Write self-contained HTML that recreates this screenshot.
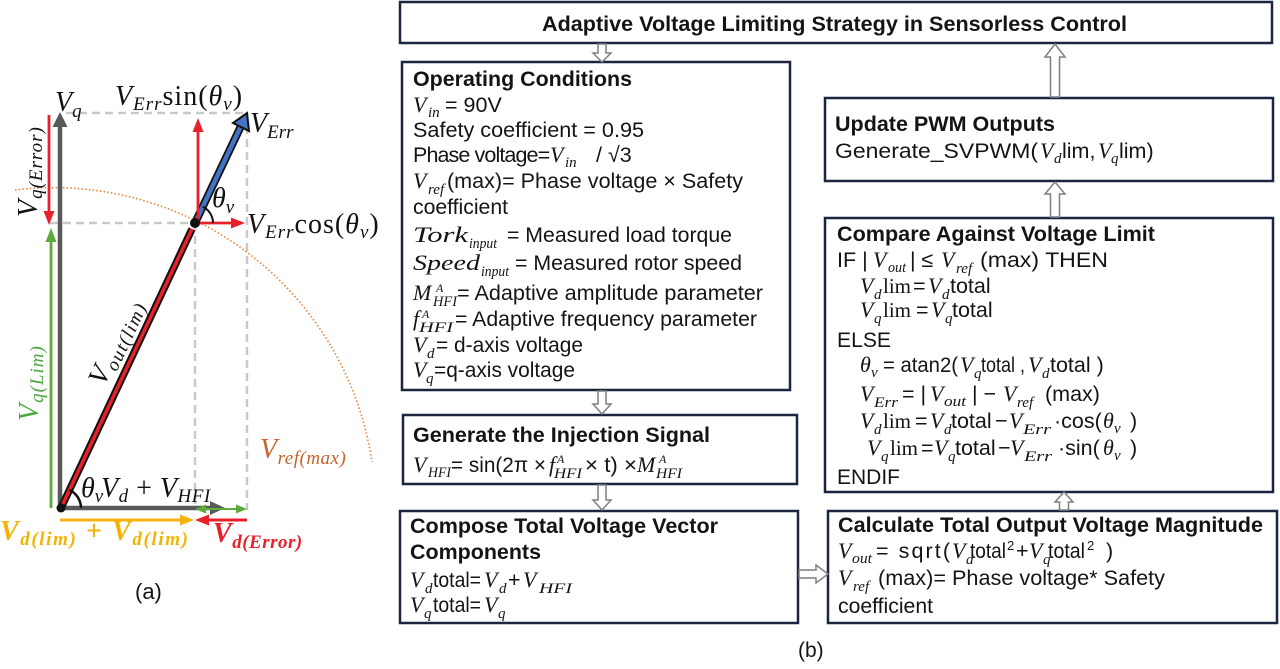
<!DOCTYPE html>
<html><head><meta charset="utf-8"><style>
html,body{margin:0;padding:0;background:#fff;}
svg{display:block;}
.t{font-family:"Liberation Sans",sans-serif;font-size:21.5px;fill:#141414;}
.b{font-family:"Liberation Sans",sans-serif;font-size:21.5px;font-weight:bold;fill:#141414;}
.m{font-family:"Liberation Serif",serif;font-style:italic;font-size:22px;fill:#141414;}
.r{font-family:"Liberation Serif",serif;font-size:21px;fill:#141414;}
.s{font-family:"Liberation Serif",serif;font-style:italic;font-size:15px;fill:#141414;}
.sp{font-family:"Liberation Serif",serif;font-style:italic;font-size:12px;fill:#141414;}
.L{font-family:"Liberation Serif",serif;font-style:italic;font-size:28px;fill:#111;}
.Ls{font-family:"Liberation Serif",serif;font-style:italic;font-size:19px;}
.box{fill:#fff;stroke:#1c2540;stroke-width:2.5;}
.ha{fill:#fff;stroke:#7f7f7f;stroke-width:1.5;}
</style></head><body>
<svg width="1280" height="669" viewBox="0 0 1280 669" xmlns="http://www.w3.org/2000/svg">
<rect width="1280" height="669" fill="#fff"/>

<!-- ============ (a) vector diagram ============ -->
<g fill="none" stroke="#c9c9c9" stroke-width="2.5" stroke-dasharray="8 5">
  <line x1="66" y1="113" x2="247" y2="113"/>
  <line x1="247" y1="113" x2="247" y2="510"/>
  <line x1="195" y1="223" x2="195" y2="510"/>
  <line x1="50" y1="223" x2="195" y2="223"/>
</g>
<path d="M 15 190 A 322 322 0 0 1 372 462" fill="none" stroke="#e8823a" stroke-width="1.6" stroke-dasharray="1.5 2.2"/>

<!-- gray axes -->
<line x1="60" y1="510" x2="60" y2="125" stroke="#595959" stroke-width="4.5"/>
<polygon points="60,112 52.5,127 67.5,127" fill="#595959"/>
<line x1="58" y1="508" x2="212" y2="508" stroke="#595959" stroke-width="4.5"/>
<polygon points="225,508 210,501 210,515" fill="#595959"/>

<!-- red Vq(Error) -->
<line x1="49" y1="115" x2="49" y2="213" stroke="#e8202a" stroke-width="2.8"/>
<polygon points="49,225 43.5,211 54.5,211" fill="#e8202a"/>
<!-- green Vq(Lim) -->
<line x1="51" y1="508" x2="51" y2="240" stroke="#5aab3c" stroke-width="2.8"/>
<polygon points="51,228 45.5,242 56.5,242" fill="#5aab3c"/>

<!-- Vout(lim) -->
<line x1="61" y1="508" x2="192" y2="229" stroke="#111" stroke-width="7.5"/>
<line x1="61" y1="508" x2="192" y2="229" stroke="#e8202a" stroke-width="3.5"/>

<!-- V_Err blue -->
<line x1="195" y1="223" x2="241" y2="126" stroke="#111" stroke-width="8"/>
<line x1="195" y1="223" x2="241" y2="126" stroke="#4472c4" stroke-width="4.5"/>
<polygon points="247,113 249,131 233,123" fill="#4472c4" stroke="#111" stroke-width="2"/>

<!-- red sin / cos -->
<line x1="198" y1="223" x2="198" y2="130" stroke="#e8202a" stroke-width="2.8"/>
<polygon points="198,118 192.5,132 203.5,132" fill="#e8202a"/>
<line x1="195" y1="223" x2="232" y2="223" stroke="#e8202a" stroke-width="2.8"/>
<polygon points="245,223 231,217.5 231,228.5" fill="#e8202a"/>

<circle cx="195" cy="223" r="5" fill="#111"/>
<circle cx="61" cy="508" r="4.5" fill="#111"/>

<!-- theta arcs -->
<path d="M 202.7 206.7 A 18 18 0 0 1 213 223" fill="none" stroke="#111" stroke-width="2"/>
<path d="M 69.5 490 A 20 20 0 0 1 81 508" fill="none" stroke="#111" stroke-width="2.5"/>

<!-- bottom arrows -->
<line x1="60" y1="520" x2="182" y2="520" stroke="#f6b40e" stroke-width="3"/>
<polygon points="194,520 180,514.5 180,525.5" fill="#f6b40e"/>
<line x1="247" y1="520" x2="207" y2="520" stroke="#e8202a" stroke-width="3"/>
<polygon points="195,520 209,514.5 209,525.5" fill="#e8202a"/>
<line x1="205" y1="509" x2="237" y2="509" stroke="#5aab3c" stroke-width="2"/>
<polygon points="195,509 206,504.5 206,513.5" fill="#5aab3c"/>
<polygon points="247,509 236,504.5 236,513.5" fill="#5aab3c"/>

<!-- labels (a) -->
<text class="L" x="55" y="111">V<tspan class="Ls" dy="6">q</tspan></text>
<text class="L" x="115" y="105" letter-spacing="1">V<tspan class="Ls" dy="5">Err</tspan><tspan dy="-5" style="font-style:normal">sin(</tspan>θ<tspan class="Ls" dy="5">v</tspan><tspan dy="-5" style="font-style:normal">)</tspan></text>
<text class="L" x="250" y="132">V<tspan class="Ls" dy="6">Err</tspan></text>
<text class="L" x="247" y="233" letter-spacing="1">V<tspan class="Ls" dy="5">Err</tspan><tspan dy="-5" style="font-style:normal">cos(</tspan>θ<tspan class="Ls" dy="5">v</tspan><tspan dy="-5" style="font-style:normal">)</tspan></text>
<text class="L" x="212" y="207">θ<tspan class="Ls" dy="6">v</tspan></text>
<text class="L" transform="translate(37,217) rotate(-90)" x="0" y="0" letter-spacing="1">V<tspan class="Ls" dy="5">q(Error)</tspan></text>
<text class="L" transform="translate(38,421) rotate(-90)" x="0" y="0" style="fill:#4da640" letter-spacing="1">V<tspan class="Ls" dy="5">q(Lim)</tspan></text>
<text class="L" transform="translate(104,387) rotate(-64.8)" x="0" y="0" letter-spacing="1.5">V<tspan class="Ls" dy="5">out(lim)</tspan></text>
<text class="L" x="81" y="497">θ<tspan class="Ls" dy="5">v</tspan></text>
<text class="L" x="101" y="497" letter-spacing="0.5">V<tspan class="Ls" dy="5">d</tspan><tspan dy="-5" style="font-style:normal"> + </tspan>V<tspan class="Ls" dy="5">HFI</tspan></text>
<text class="L" x="0" y="540" style="fill:#f5b301;font-weight:bold" letter-spacing="1.6">V<tspan class="Ls" dy="5">d(lim)</tspan><tspan dy="-5" style="font-style:normal"> + </tspan>V<tspan class="Ls" dy="5">d(lim)</tspan></text>
<text class="L" x="213" y="542" style="fill:#e8202a;font-weight:bold" letter-spacing="0.5">V<tspan class="Ls" dy="6">d(Error)</tspan></text>
<text class="L" x="260" y="458" style="fill:#c8622a" letter-spacing="0.5">V<tspan class="Ls" dy="6">ref(max)</tspan></text>
<text class="t" x="135" y="599" style="font-size:22px">(a)</text>

<!-- ============ (b) flowchart ============ -->
<rect class="box" x="400" y="2" width="872" height="41"/>
<text class="b" x="542" y="31" textLength="585" lengthAdjust="spacingAndGlyphs">Adaptive Voltage Limiting Strategy in Sensorless Control</text>

<rect class="box" x="402" y="62" width="388" height="328"/>
<rect class="box" x="403" y="415" width="394" height="69"/>
<rect class="box" x="400" y="511" width="398" height="112"/>
<rect class="box" x="825" y="98" width="448" height="83"/>
<rect class="box" x="825" y="218" width="448" height="274"/>
<rect class="box" x="828" y="511" width="449" height="112"/>

<!-- hollow arrows -->
<polygon class="ha" points="598,44 606,44 606,53 611,53 602,62 593,53 598,53"/>
<polygon class="ha" points="598,391 606,391 606,404 611,404 602,414 593,404 598,404"/>
<polygon class="ha" points="598,485 606,485 606,500 611,500 602,510 593,500 598,500"/>
<polygon class="ha" points="1050.5,97 1059.5,97 1059.5,57 1065,57 1055,44 1045,57 1050.5,57"/>
<polygon class="ha" points="1050.5,217 1059.5,217 1059.5,194 1065,194 1055,182 1045,194 1050.5,194"/>
<polygon class="ha" points="1059.5,510 1068.5,510 1068.5,502 1073,502 1064,492 1055,502 1059.5,502"/>
<polygon class="ha" points="799,570 816,570 816,565 828,574 816,583 816,578 799,578"/>

<!-- Operating Conditions -->
<text class="b" x="413" y="86" textLength="219" lengthAdjust="spacingAndGlyphs">Operating Conditions</text>
<text class="m" x="413" y="112">V</text><text class="s" x="428" y="117">in</text>
<text class="t" x="445" y="112">= 90V</text>
<text class="t" x="413" y="137" textLength="231" lengthAdjust="spacingAndGlyphs">Safety coefficient = 0.95</text>
<text class="t" x="413" y="162" letter-spacing="-0.9">Phase voltage=</text>
<text class="m" x="550" y="162">V</text><text class="s" x="565" y="167">in</text>
<text class="t" x="596" y="162">/ √3</text>
<text class="m" x="413" y="188">V</text><text class="s" x="428" y="194">ref</text>
<text class="t" x="447" y="188" textLength="296" lengthAdjust="spacingAndGlyphs">(max)= Phase voltage × Safety</text>
<text class="t" x="413" y="214" textLength="95" lengthAdjust="spacingAndGlyphs">coefficient</text>
<text class="m" x="413" y="242" textLength="55" lengthAdjust="spacingAndGlyphs">Tork</text><text class="s" x="469" y="248" textLength="28" lengthAdjust="spacingAndGlyphs">input</text>
<text class="t" x="507" y="242" textLength="225" lengthAdjust="spacingAndGlyphs">= Measured load torque</text>
<text class="m" x="413" y="270" textLength="67" lengthAdjust="spacingAndGlyphs">Speed</text><text class="s" x="481" y="276" textLength="28" lengthAdjust="spacingAndGlyphs">input</text>
<text class="t" x="515" y="270" textLength="227" lengthAdjust="spacingAndGlyphs">= Measured rotor speed</text>
<text class="m" x="413" y="300">M</text><text class="sp" x="436" y="292">A</text><text class="s" x="433" y="306" textLength="24" lengthAdjust="spacingAndGlyphs">HFI</text>
<text class="t" x="457" y="300" textLength="306" lengthAdjust="spacingAndGlyphs">= Adaptive amplitude parameter</text>
<text class="m" x="413" y="326">f</text><text class="sp" x="422" y="318">A</text><text class="s" x="419" y="332" textLength="34" lengthAdjust="spacingAndGlyphs">HFI</text>
<text class="t" x="455" y="326" textLength="302" lengthAdjust="spacingAndGlyphs">= Adaptive frequency parameter</text>
<text class="m" x="413" y="352">V</text><text class="s" x="427" y="358">d</text>
<text class="t" x="436" y="352" textLength="147" lengthAdjust="spacingAndGlyphs">= d-axis voltage</text>
<text class="m" x="413" y="377">V</text><text class="s" x="426" y="383">q</text>
<text class="t" x="434" y="377" textLength="141" lengthAdjust="spacingAndGlyphs">=q-axis voltage</text>

<!-- Generate Injection -->
<text class="b" x="413" y="442" textLength="297" lengthAdjust="spacingAndGlyphs">Generate the Injection Signal</text>
<text class="m" x="413" y="472">V</text><text class="s" x="428" y="477" textLength="23" lengthAdjust="spacingAndGlyphs">HFI</text>
<text class="t" x="451" y="472" textLength="95" lengthAdjust="spacingAndGlyphs">= sin(2π ×</text>
<text class="m" x="549" y="472">f</text><text class="sp" x="557" y="463">A</text><text class="s" x="554" y="478" textLength="28" lengthAdjust="spacingAndGlyphs">HFI</text>
<text class="t" x="585" y="472" textLength="52" lengthAdjust="spacingAndGlyphs">× t) ×</text>
<text class="m" x="637" y="472">M</text><text class="sp" x="659" y="463">A</text><text class="s" x="656" y="478" textLength="26" lengthAdjust="spacingAndGlyphs">HFI</text>

<!-- Compose -->
<text class="b" x="410" y="533" textLength="308" lengthAdjust="spacingAndGlyphs">Compose Total Voltage Vector</text>
<text class="b" x="410" y="559" textLength="131" lengthAdjust="spacingAndGlyphs">Components</text>
<text class="m" x="410" y="587">V</text><text class="s" x="425" y="593">d</text>
<text class="t" x="433" y="587" textLength="48" lengthAdjust="spacingAndGlyphs">total=</text>
<text class="m" x="484" y="587">V</text><text class="s" x="499" y="593">d</text>
<text class="t" x="508" y="587">+</text>
<text class="m" x="523" y="587">V</text><text class="s" x="539" y="593" textLength="33" lengthAdjust="spacingAndGlyphs">HFI</text>
<text class="m" x="410" y="612">V</text><text class="s" x="424" y="618">q</text>
<text class="t" x="433" y="612" textLength="48" lengthAdjust="spacingAndGlyphs">total=</text>
<text class="m" x="484" y="612">V</text><text class="s" x="498" y="618">q</text>

<!-- Update PWM -->
<text class="b" x="835" y="131" textLength="220" lengthAdjust="spacingAndGlyphs">Update PWM Outputs</text>
<text class="t" x="835" y="158" textLength="203" lengthAdjust="spacingAndGlyphs">Generate_SVPWM(</text>
<text class="m" x="1040" y="158">V</text><text class="s" x="1054" y="163">d</text>
<text class="t" x="1062" y="158">lim,</text>
<text class="m" x="1098" y="158">V</text><text class="s" x="1111" y="163">q</text>
<text class="t" x="1119" y="158">lim)</text>

<!-- Compare -->
<text class="b" x="837" y="241" textLength="318" lengthAdjust="spacingAndGlyphs">Compare Against Voltage Limit</text>
<text class="t" x="837" y="267">IF |</text>
<text class="m" x="873" y="267">V</text><text class="s" x="888" y="272" textLength="18" lengthAdjust="spacingAndGlyphs">out</text>
<text class="t" x="910" y="267">| ≤</text>
<text class="m" x="941" y="267">V</text><text class="s" x="956" y="273">ref</text>
<text class="t" x="980" y="267" textLength="128" lengthAdjust="spacingAndGlyphs">(max)  THEN</text>

<text class="m" x="860" y="293">V</text><text class="s" x="874" y="299">d</text>
<text class="r" x="883" y="293">lim</text><text class="t" x="913" y="293">=</text>
<text class="m" x="928" y="293">V</text><text class="s" x="942" y="299">d</text>
<text class="t" x="950" y="293">total</text>

<text class="m" x="860" y="317">V</text><text class="s" x="874" y="323">q</text>
<text class="r" x="883" y="317">lim</text><text class="t" x="916" y="317">=</text>
<text class="m" x="931" y="317">V</text><text class="s" x="945" y="323">q</text>
<text class="t" x="952" y="317">total</text>

<text class="t" x="837" y="347" textLength="54" lengthAdjust="spacingAndGlyphs">ELSE</text>

<text class="m" x="860" y="372">θ</text><text class="s" x="871" y="377">v</text>
<text class="t" x="883" y="372" textLength="75" lengthAdjust="spacingAndGlyphs">= atan2(</text>
<text class="m" x="960" y="372">V</text><text class="s" x="974" y="378">q</text>
<text class="t" x="981" y="372" textLength="44" lengthAdjust="spacingAndGlyphs">total ,</text>
<text class="m" x="1028" y="372">V</text><text class="s" x="1042" y="378">d</text>
<text class="t" x="1050" y="372">total )</text>

<text class="m" x="860" y="401">V</text><text class="s" x="874" y="407" textLength="24" lengthAdjust="spacingAndGlyphs">Err</text>
<text class="t" x="902" y="401">= |</text>
<text class="m" x="930" y="401">V</text><text class="s" x="944" y="406" textLength="22" lengthAdjust="spacingAndGlyphs">out</text>
<text class="t" x="972" y="401">| −</text>
<text class="m" x="1003" y="401">V</text><text class="s" x="1017" y="407">ref</text>
<text class="t" x="1045" y="401">(max)</text>

<text class="m" x="860" y="428">V</text><text class="s" x="874" y="434">d</text>
<text class="r" x="883" y="428">lim</text><text class="t" x="915" y="428">=</text>
<text class="m" x="930" y="428">V</text><text class="s" x="944" y="434">d</text>
<text class="t" x="951" y="428">total</text>
<text class="t" x="995" y="428">−</text>
<text class="m" x="1009" y="428">V</text><text class="s" x="1023" y="434" textLength="28" lengthAdjust="spacingAndGlyphs">Err</text>
<text class="t" x="1054" y="428">·cos(</text>
<text class="m" x="1103" y="428">θ</text><text class="s" x="1114" y="433">v</text>
<text class="t" x="1130" y="428">)</text>

<text class="m" x="867" y="455">V</text><text class="s" x="881" y="461">q</text>
<text class="r" x="890" y="455">lim</text><text class="t" x="921" y="455">=</text>
<text class="m" x="934" y="455">V</text><text class="s" x="948" y="461">q</text>
<text class="t" x="955" y="455">total</text>
<text class="t" x="998" y="455">−</text>
<text class="m" x="1010" y="455">V</text><text class="s" x="1024" y="461" textLength="28" lengthAdjust="spacingAndGlyphs">Err</text>
<text class="t" x="1058" y="455">·sin(</text>
<text class="m" x="1103" y="455">θ</text><text class="s" x="1114" y="460">v</text>
<text class="t" x="1130" y="455">)</text>

<text class="t" x="837" y="484" textLength="63" lengthAdjust="spacingAndGlyphs">ENDIF</text>

<!-- Calculate -->
<text class="b" x="838" y="532" textLength="425" lengthAdjust="spacingAndGlyphs">Calculate Total Output Voltage Magnitude</text>
<text class="m" x="838" y="558">V</text><text class="s" x="852" y="563" textLength="20" lengthAdjust="spacingAndGlyphs">out</text>
<text class="t" x="876" y="558" textLength="74" lengthAdjust="spacing">= sqrt(</text>
<text class="m" x="952" y="558">V</text><text class="s" x="966" y="564">d</text>
<text class="t" x="970" y="558" textLength="36" lengthAdjust="spacingAndGlyphs">total</text><text class="t" x="1007" y="550" style="font-size:13px">2</text>
<text class="t" x="1016" y="558">+</text>
<text class="m" x="1029" y="558">V</text><text class="s" x="1043" y="564">q</text>
<text class="t" x="1048" y="558" textLength="37" lengthAdjust="spacingAndGlyphs">total</text><text class="t" x="1087" y="550" style="font-size:13px">2</text>
<text class="t" x="1106" y="558">)</text>
<text class="m" x="838" y="585">V</text><text class="s" x="853" y="591">ref</text>
<text class="t" x="878" y="585" textLength="287" lengthAdjust="spacingAndGlyphs">(max)= Phase voltage* Safety</text>
<text class="t" x="838" y="613" textLength="95" lengthAdjust="spacingAndGlyphs">coefficient</text>

<text class="t" x="798" y="657" style="font-size:21px">(b)</text>
</svg>
</body></html>
